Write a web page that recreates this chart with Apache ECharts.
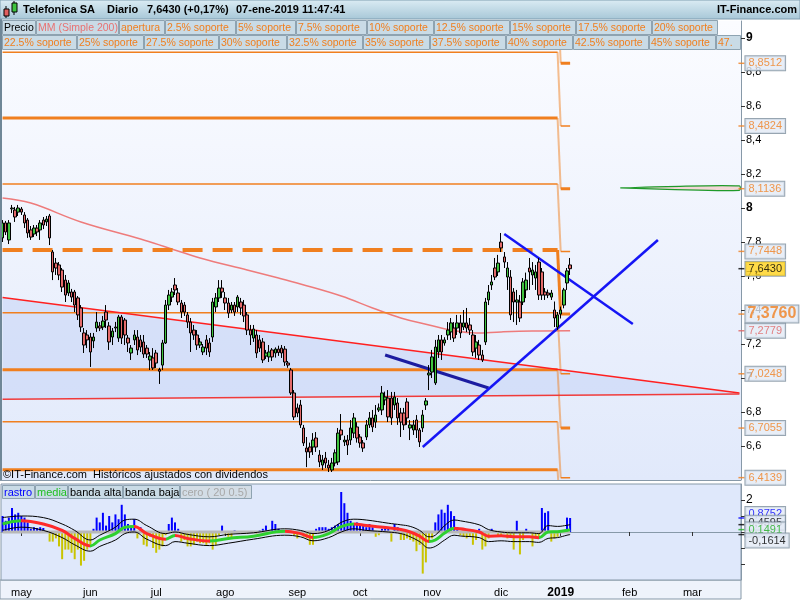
<!DOCTYPE html>
<html><head><meta charset="utf-8">
<script src="https://cdn.jsdelivr.net/npm/echarts@6/dist/echarts.min.js"></script>
<style>html,body{margin:0;padding:0;background:#fff}#c{width:800px;height:600px}</style>
</head><body><div id="c"></div>
<script>
// ---------- DATA ----------
const holidays = ['2018-05-01','2018-12-25','2018-12-26','2019-01-01'];
const firstDay = '2018-04-23', lastDay = '2019-03-22';
const monthNames = ['ene','feb','mar','abr','may','jun','jul','ago','sep','oct','nov','dic'];

const opens = [
7.824,7.912,7.812,7.995,7.988,7.976,7.994,7.959,7.929,7.871,
7.847,7.882,7.871,7.929,7.918,7.953,7.741,7.676,7.665,7.635,
7.576,7.500,7.506,7.506,7.471,7.412,7.265,7.253,7.241,7.218,
7.294,7.306,7.300,7.388,7.306,7.241,7.294,7.235,7.359,7.341,
7.235,7.147,7.224,7.241,7.224,7.212,7.176,7.106,7.118,7.147,
7.050,7.076,7.206,7.429,7.476,7.547,7.500,7.441,7.429,7.371,
7.329,7.282,7.253,7.194,7.153,7.224,7.206,7.241,7.418,7.471,
7.529,7.471,7.441,7.400,7.429,7.418,7.447,7.429,7.371,7.282,
7.235,7.253,7.224,7.212,7.129,7.124,7.165,7.147,7.170,7.176,
7.170,7.088,7.047,6.912,6.824,6.841,6.706,6.588,6.594,6.594,
6.647,6.547,6.488,6.529,6.488,6.459,6.500,6.506,6.694,6.624,
6.635,6.635,6.676,6.712,6.653,6.618,6.653,6.724,6.765,6.741,
6.812,6.812,6.871,6.882,6.882,6.841,6.853,6.794,6.794,6.859,
6.706,6.694,6.753,6.694,6.706,6.841,7.018,7.035,6.971,7.153,
7.224,7.206,7.253,7.271,7.294,7.294,7.324,7.300,7.324,7.312,
7.253,7.176,7.194,7.135,7.212,7.459,7.547,7.647,7.624,7.800,
7.712,7.594,7.594,7.506,7.447,7.447,7.447,7.518,7.647,7.606,
7.588,7.682,7.624,7.506,7.500,7.476,7.400,7.300,7.376,7.429,
7.559,7.665];
const closes = [
7.912,7.859,7.912,8.000,7.947,8.000,7.976,7.912,7.853,7.829,
7.882,7.859,7.912,7.900,7.935,7.824,7.624,7.647,7.606,7.535,
7.488,7.559,7.476,7.429,7.371,7.300,7.194,7.224,7.153,7.241,
7.329,7.294,7.335,7.341,7.212,7.276,7.300,7.359,7.235,7.253,
7.206,7.176,7.253,7.165,7.182,7.141,7.141,7.129,7.059,7.088,
7.040,7.206,7.429,7.488,7.506,7.518,7.447,7.388,7.388,7.329,
7.265,7.253,7.194,7.212,7.182,7.176,7.153,7.447,7.471,7.529,
7.506,7.441,7.382,7.429,7.388,7.476,7.412,7.365,7.282,7.253,
7.288,7.147,7.176,7.106,7.147,7.153,7.124,7.170,7.150,7.147,
7.094,7.076,6.912,6.771,6.794,6.724,6.618,6.565,6.565,6.635,
6.594,6.506,6.518,6.500,6.471,6.500,6.560,6.676,6.665,6.635,
6.606,6.706,6.765,6.647,6.618,6.588,6.724,6.765,6.712,6.782,
6.824,6.912,6.888,6.771,6.765,6.888,6.765,6.741,6.724,6.765,
6.724,6.724,6.694,6.624,6.782,6.865,7.029,7.124,7.182,7.224,
7.153,7.224,7.282,7.324,7.235,7.324,7.265,7.324,7.294,7.282,
7.153,7.212,7.135,7.106,7.447,7.506,7.565,7.594,7.676,7.765,
7.682,7.647,7.371,7.447,7.459,7.353,7.565,7.576,7.624,7.635,
7.624,7.488,7.488,7.488,7.488,7.500,7.353,7.371,7.400,7.518,
7.630,7.643];
const lows = [
7.800,7.841,7.788,7.970,7.918,7.953,7.959,7.882,7.824,7.812,
7.829,7.835,7.812,7.876,7.894,7.782,7.576,7.606,7.576,7.506,
7.447,7.482,7.447,7.388,7.341,7.271,7.147,7.176,7.065,7.176,
7.271,7.276,7.282,7.294,7.165,7.194,7.270,7.212,7.200,7.194,
7.153,7.106,7.194,7.135,7.153,7.118,7.118,7.047,7.047,7.059,
6.965,7.047,7.200,7.400,7.447,7.488,7.429,7.353,7.365,7.294,
7.153,7.224,7.165,7.176,7.135,7.135,7.124,7.212,7.388,7.447,
7.471,7.400,7.353,7.382,7.365,7.388,7.371,7.329,7.253,7.194,
7.212,7.118,7.153,7.088,7.112,7.094,7.100,7.120,7.130,7.118,
7.071,7.060,6.900,6.753,6.770,6.706,6.600,6.476,6.530,6.547,
6.565,6.476,6.459,6.470,6.447,6.447,6.480,6.488,6.635,6.600,
6.547,6.606,6.647,6.620,6.590,6.565,6.635,6.706,6.682,6.706,
6.800,6.782,6.840,6.741,6.724,6.812,6.724,6.653,6.694,6.724,
6.635,6.665,6.647,6.594,6.682,6.812,6.929,7.000,6.959,7.118,
7.106,7.190,7.224,7.224,7.212,7.253,7.235,7.282,7.270,7.253,
7.129,7.118,7.106,7.094,7.194,7.429,7.518,7.576,7.600,7.741,
7.647,7.518,7.341,7.329,7.312,7.329,7.429,7.470,7.518,7.547,
7.518,7.459,7.459,7.459,7.470,7.459,7.300,7.282,7.350,7.410,
7.518,7.606];
const highs = [
7.929,7.924,7.929,8.018,8.006,8.018,8.006,7.976,7.941,7.894,
7.900,7.900,7.929,7.947,7.953,7.965,7.753,7.706,7.682,7.647,
7.606,7.576,7.524,7.518,7.482,7.429,7.294,7.282,7.265,7.265,
7.388,7.329,7.365,7.429,7.329,7.294,7.330,7.371,7.371,7.353,
7.253,7.194,7.282,7.282,7.253,7.253,7.194,7.153,7.176,7.165,
7.060,7.224,7.459,7.518,7.529,7.588,7.529,7.459,7.447,7.388,
7.353,7.312,7.282,7.235,7.200,7.253,7.235,7.471,7.500,7.576,
7.576,7.506,7.471,7.447,7.447,7.488,7.471,7.459,7.388,7.312,
7.312,7.282,7.253,7.235,7.165,7.194,7.176,7.180,7.190,7.194,
7.188,7.100,7.059,6.929,6.850,6.871,6.724,6.653,6.620,6.676,
6.682,6.576,6.547,6.565,6.518,6.530,6.580,6.706,6.788,6.660,
6.665,6.753,6.794,6.740,6.670,6.635,6.753,6.800,6.812,6.841,
6.850,6.953,6.920,6.929,6.918,6.918,6.882,6.824,6.824,6.882,
6.753,6.753,6.782,6.706,6.812,6.882,7.076,7.165,7.224,7.253,
7.253,7.240,7.329,7.353,7.329,7.371,7.371,7.400,7.412,7.353,
7.282,7.253,7.224,7.165,7.471,7.547,7.606,7.706,7.724,7.853,
7.741,7.682,7.635,7.529,7.518,7.488,7.588,7.620,7.706,7.682,
7.665,7.706,7.647,7.529,7.520,7.518,7.450,7.388,7.420,7.530,
7.647,7.706];

// MM (Simple 200): [day index, value]
const mm200 = [[0,8.059],[9,8.029],[25,7.918],[44,7.818],[53,7.765],[63,7.706],[78,7.635],[88,7.588],[95,7.553],[108,7.482],[118,7.412],[127,7.353],[136,7.312],[143,7.282],[151,7.265],[159,7.271],[169,7.276],[181,7.2779]];

// support levels: value in 2018 and value from 2019
const levels2018 = [9.304, 8.916, 8.529, 8.141, 7.753, 7.384, 7.048, 6.742, 6.461];
const levels2019 = [8.8512, 8.4824, 8.1136, 7.7448, 7.3760, 7.0248, 6.7055, 6.4139, 6.1467];
const aperturaIndex = 4;

// trend lines [day index, value]
const redDesc = [[0,7.473],[235,6.912]];
const redFlat = [[0,6.875],[235,6.906]];
const trendDark = [[122,7.135],[155,6.941]];
const trendUp = [[134,6.594],[209,7.812]];
const trendDown = [[160,7.847],[201,7.318]];
const lens = [[197,8.118],[212,8.126],[235,8.130],[235,8.104],[212,8.110],[197,8.118]];

// lower indicator
const rastro = [
1.0,0.7,0.9,1.5,1.1,1.2,1.0,0.9,0.6,0.2,
0.3,0.25,0.3,0.25,0.05,-0.6,-0.6,-0.4,-0.9,-1.7,
-1.1,-1.1,-1.3,-1.7,-1.1,-2.1,-1.8,-1.1,-0.8,0.2,
0.9,0.6,1.2,0.4,1.0,0.6,1.1,0.8,1.7,1.1,
0.5,0.4,0.8,-0.4,0.3,-0.8,-0.9,-0.3,-1.0,-1.3,
-1.1,-0.9,-0.2,0.5,0.9,0.6,0.2,-0.6,-0.5,-0.9,
-0.9,-0.8,-0.6,-0.7,-0.7,-0.8,-0.7,-1.1,-0.8,-0.2,
0.4,-0.1,-0.3,-0.4,0.1,0.05,0.0,0.05,-0.1,-0.05,
0.0,-0.1,0.1,0.2,0.4,0.1,0.7,0.5,0.2,0.1,
0.0,0.1,0.0,-0.2,-0.4,-0.1,-0.3,-0.4,-0.8,-0.8,
0.2,0.3,0.3,0.3,0.2,0.3,0.4,0.5,2.5,1.8,
1.2,0.7,0.5,0.6,0.5,0.4,0.3,0.5,0.3,-0.3,
-0.2,0.2,0.3,0.3,-0.6,0.5,0.3,-0.5,-0.5,-0.4,
-0.5,-0.6,-1.2,-0.8,-2.6,-1.9,-0.6,-0.4,0.6,1.1,
1.4,1.2,1.7,1.3,1.0,0.3,-0.2,-0.3,-0.4,-0.3,
-0.8,-0.5,0.2,-1.1,-0.9,-0.4,0.2,0.0,-0.2,-0.3,
-0.1,-0.4,-0.3,-1.1,0.7,-1.4,-0.5,0.2,0.0,-0.9,
-0.4,-0.3,1.5,1.2,1.3,-0.6,-0.4,-0.3,0.0,0.1,
0.9,0.8752];
const media = [[0,0.5],[6,0.7],[13,0.5],[19,0.1],[23,-0.4],[28,-0.87],[31,-0.5],[36,-0.1],[39,0.3],[42,0.34],[46,-0.1],[52,-0.45],[55,-0.22],[59,-0.4],[66,-0.57],[72,-0.4],[80,-0.26],[90,0.04],[95,-0.1],[99,-0.34],[104,-0.1],[108,0.34],[112,0.5],[116,0.4],[123,0.26],[127,0.16],[130,0],[133,-0.26],[136,-0.6],[138,-0.5],[141,-0.06],[144,0.24],[146,0.2],[152,0],[155,-0.26],[159,-0.24],[163,-0.3],[168,-0.3],[171,-0.36],[174,0],[177,0.02],[180,0.1],[181,0.1491]];
const bandaAlta = [[0,0.9],[6,1.0],[13,0.9],[19,0.5],[23,0.1],[28,-0.5],[31,-0.2],[36,0.3],[39,0.75],[42,0.8],[46,0.4],[52,-0.1],[55,0.0],[59,-0.15],[66,-0.3],[72,-0.15],[80,-0.05],[90,0.2],[95,0.1],[99,-0.1],[104,0.1],[108,0.6],[112,0.8],[116,0.75],[123,0.55],[127,0.45],[130,0.35],[133,0.1],[136,-0.3],[138,-0.2],[141,0.4],[144,0.75],[146,0.7],[152,0.45],[155,0.15],[159,0.0],[163,-0.05],[168,-0.05],[171,-0.1],[174,0.4],[177,0.35],[180,0.42],[181,0.4595]];
const bandaBaja = [[0,0.1],[6,0.3],[13,0.1],[19,-0.35],[23,-0.8],[28,-1.2],[31,-0.9],[36,-0.5],[39,-0.1],[42,0.0],[46,-0.45],[52,-0.85],[55,-0.6],[59,-0.7],[66,-0.85],[72,-0.7],[80,-0.45],[90,-0.2],[95,-0.3],[99,-0.55],[104,-0.35],[108,0.0],[112,0.2],[116,0.1],[123,0.0],[127,-0.1],[130,-0.3],[133,-0.6],[136,-1.0],[138,-0.9],[141,-0.5],[144,-0.2],[146,-0.25],[152,-0.35],[155,-0.6],[159,-0.55],[163,-0.6],[168,-0.6],[171,-0.65],[174,-0.4],[177,-0.35],[180,-0.2],[181,-0.1614]];
const mediaFalling = [[6,28],[42,52],[55,66],[90,99],[112,136],[144,171]];

// texts
const titleParts = ['Telefonica SA','Diario','7,6430 (+0,17%)','07-ene-2019 11:47:41'];
const legendRow1 = ['Precio','MM (Simple 200)','apertura','2.5% soporte','5% soporte','7.5% soporte','10% soporte','12.5% soporte','15% soporte','17.5% soporte','20% soporte'];
const legendRow2 = ['22.5% soporte','25% soporte','27.5% soporte','30% soporte','32.5% soporte','35% soporte','37.5% soporte','40% soporte','42.5% soporte','45% soporte','47.5% soporte'];
const indLegend = ['rastro','media','banda alta','banda baja','cero ( 20 0.5)'];

// ---------- LAYOUT / STYLE ----------
const FONT = '"Liberation Sans", Arial, sans-serif';
const ORANGE = '#f07f1f';
const row1Edges = [2,36,119,165,236,296,367,434,510,576,652,718];
const row2Edges = [2,77,144,219,287,363,430,506,573,649,716,741];
const row1Colors = ['#000','#e87272'].concat(Array(9).fill(ORANGE));
const indEdges = [2,35,68,123,180,252];
const indColors = ['#0000ff','#22c022','#000','#000','#a8a8a8'];
const titleX = [23,107,147,236];

function buildDates(){
  const out=[]; let t=Date.parse(firstDay+'T00:00:00Z'); const end=Date.parse(lastDay+'T00:00:00Z');
  while(t<=end){ const d=new Date(t); const wd=d.getUTCDay(); const s=d.toISOString().slice(0,10);
    if(wd!==0&&wd!==6&&holidays.indexOf(s)<0) out.push(s); t+=86400000; }
  return out;
}
const dates = buildDates();
const LAST = closes.length-1;
const END2018 = dates.indexOf('2018-12-31');
const isMonthStart = i => i>0 && dates[i].slice(0,7)!==dates[i-1].slice(0,7);
const fmtComma = (v,d) => v.toFixed(d).replace('.',',');

const chart = echarts.init(document.getElementById('c'), null, {renderer:'canvas', width:800, height:600});

const series = [];
series.push({type:'custom', xAxisIndex:0, yAxisIndex:0, silent:true, z:1, data:[0],
  renderItem:(p,api)=>({type:'polygon', shape:{points:[redDesc[0],redDesc[1],redFlat[1],redFlat[0]].map(q=>api.coord(q))},
    style:{fill:'rgba(196,212,246,0.55)'}})});
series.push({type:'custom', xAxisIndex:0, yAxisIndex:0, silent:true, z:3, data:[0],
  renderItem:(p,api)=>({type:'polygon', shape:{points:lens.map(q=>api.coord(q)), smooth:0.3},
    style:{fill:'#f3d6d6', stroke:'#1f9a2a', lineWidth:1.2}})});
series.push({type:'line', xAxisIndex:0, yAxisIndex:0, data:mm200, smooth:0.4, symbol:'none', silent:true, z:3,
  lineStyle:{color:'#ee7b7b', width:1.5}});
const w18 = [3,1.5,3,1.5,4,1.5,3,1.5,3];
const w19 = [3,1.5,3,1.5,3,1.5,3,1.5,3];
levels2018.forEach((v,k)=>{
  series.push({type:'line', xAxisIndex:0, yAxisIndex:0, data:[[0,v],[END2018,v]], symbol:'none', silent:true, z:3,
    lineStyle:{color:ORANGE, width:w18[k], type: k===aperturaIndex ? [20,10] : 'solid'}});
  series.push({type:'line', xAxisIndex:0, yAxisIndex:0, data:[[END2018,v],[END2018+1,levels2019[k]]], symbol:'none', silent:true, z:3,
    lineStyle:{color: k===aperturaIndex ? ORANGE : 'rgba(240,127,31,0.5)', width: k===aperturaIndex ? 3 : 2}});
  series.push({type:'line', xAxisIndex:0, yAxisIndex:0, data:[[END2018+1,levels2019[k]],[LAST,levels2019[k]]], symbol:'none', silent:true, z:3,
    lineStyle:{color:ORANGE, width:w19[k]}});
});
[[redDesc,'#ff2020',1.5],[redFlat,'#f03a3a',1.5],[trendDark,'#1c1ca0',3],[trendUp,'#1515f5',2.5],[trendDown,'#1515f5',2.5]].forEach(([d,c,w])=>{
  series.push({type:'line', xAxisIndex:0, yAxisIndex:0, data:d, symbol:'none', silent:true, z:4, lineStyle:{color:c, width:w}});
});
series.push({type:'candlestick', name:'Precio', xAxisIndex:0, yAxisIndex:0, z:5, barWidth:3,
  data: opens.map((o,i)=>[o,closes[i],lows[i],highs[i]]),
  itemStyle:{color:'#3fc43f', color0:'#e36a6a', borderColor:'#000', borderColor0:'#000', borderWidth:1}
});

// value tags on the price axis
const tagBase = {show:true, position:'right', distance:2, fontSize:11, fontFamily:FONT, color:ORANGE,
  backgroundColor:'#e2eaf5', borderColor:'#7d8e9d', borderWidth:1, padding:[2,3,1,3]};
const mainTags = [];
levels2019.forEach((v,k)=>{ if(v>6.4 && v<9.1 && k!==aperturaIndex) mainTags.push({v, t:fmtComma(v,4)}); });
mainTags.push({v:levels2019[aperturaIndex], t:fmtComma(levels2019[aperturaIndex],4), extra:{fontSize:16, fontWeight:'bold', padding:[1,2,0,2]}});
mainTags.push({v:mm200[mm200.length-1][1], t:fmtComma(mm200[mm200.length-1][1],4), extra:{color:'#e06464'}});
mainTags.push({v:closes[LAST], t:fmtComma(closes[LAST],4), extra:{color:'#000', backgroundColor:'#ffd21a'}});
const tagColorMain = (o)=> (o.extra && o.extra.color) ? o.extra.color : ORANGE;
series.push({type:'scatter', xAxisIndex:0, yAxisIndex:0, z:20, silent:true, clip:false, symbol:'rect', symbolSize:[6,1.5], symbolOffset:[2,0],
  data: mainTags.map(o=>({value:[dates.length-1, o.v], itemStyle:{color: tagColorMain(o)},
    label:Object.assign({}, tagBase, {formatter:o.t, offset:[-1,0]}, o.extra||{})}))
});

// indicator
const indTags = [
  {v:rastro[LAST], c:'#0000ff', off:[-1,-4]},
  {v:bandaAlta[bandaAlta.length-1][1], c:'#000', off:[-1,-2]},
  {v:media[media.length-1][1], c:'#22b022', off:[-1,0]},
  {v:bandaBaja[bandaBaja.length-1][1], c:'#000', off:[-1,6]}
];
series.push({type:'bar', xAxisIndex:1, yAxisIndex:1, barWidth:2, silent:true, z:2,
  data: rastro.map(v=>({value:v, itemStyle:{color: v>=0 ? '#0000ff' : '#c9c400'}}))});
series.push({type:'line', xAxisIndex:1, yAxisIndex:1, data:[[0,0],[LAST,0]], symbol:'none', silent:true, z:3, lineStyle:{color:'#b8b8b8', width:3}});
series.push({type:'line', xAxisIndex:1, yAxisIndex:1, data:bandaAlta, smooth:0.4, symbol:'none', silent:true, z:4, lineStyle:{color:'#000', width:1}});
series.push({type:'line', xAxisIndex:1, yAxisIndex:1, data:bandaBaja, smooth:0.4, symbol:'none', silent:true, z:4, lineStyle:{color:'#000', width:1}});
const mediaIndex = series.length;
series.push({type:'line', xAxisIndex:1, yAxisIndex:1, data:media, smooth:0.4, symbol:'none', silent:true, z:5, lineStyle:{width:3}});
series.push({type:'scatter', xAxisIndex:1, yAxisIndex:1, z:20, silent:true, clip:false, symbol:'rect', symbolSize:[6,1.5], symbolOffset:[2,0],
  data: indTags.map(o=>({value:[dates.length-1, o.v], itemStyle:{color:o.c},
    label:Object.assign({}, tagBase, {formatter:fmtComma(o.v,4), color:o.c, offset:o.off})}))
});

// ---------- GRAPHICS (frame, header, legends) ----------
const g = [];
g.push({type:'rect', z:50, silent:true, shape:{x:0,y:0,width:800,height:19},
  style:{fill:new echarts.graphic.LinearGradient(0,0,0,1,[{offset:0,color:'#dbecf4'},{offset:1,color:'#a7c7d7'}]), stroke:'#7f9db0', lineWidth:1}});
g.push({type:'line', z:51, shape:{x1:6,y1:6,x2:6,y2:18}, style:{stroke:'#000',lineWidth:1}});
g.push({type:'rect', z:52, shape:{x:4,y:9,width:5,height:7}, style:{fill:'#e06060',stroke:'#000',lineWidth:1}});
g.push({type:'line', z:51, shape:{x1:14,y1:1,x2:14,y2:15}, style:{stroke:'#000',lineWidth:1}});
g.push({type:'rect', z:52, shape:{x:12,y:3,width:5,height:9}, style:{fill:'#3fc43f',stroke:'#000',lineWidth:1}});
titleParts.forEach((t,i)=>g.push({type:'text', z:52, x:titleX[i], y:10, style:{text:t, font:'bold 11px '+FONT, fill:'#000', verticalAlign:'middle'}}));
g.push({type:'text', z:52, x:797, y:10, style:{text:'IT-Finance.com', font:'bold 11px '+FONT, fill:'#000', align:'right', verticalAlign:'middle'}});
function legendRow(labels, edges, colors, y, h, clipLast){
  labels.forEach((t,i)=>{
    const x0=edges[i], x1=edges[i+1];
    g.push({type:'rect', z:60, silent:true, shape:{x:x0+0.5,y:y+0.5,width:x1-x0-1,height:h}, style:{fill:'#c9dbe6', stroke:'#8ea3b1', lineWidth:1}});
    const st = {text:t, font:'10.5px '+FONT, fill:colors[i], verticalAlign:'middle'};
    if (clipLast && i===labels.length-1) Object.assign(st, {width:x1-x0-4, overflow:'truncate', ellipsis:''});
    g.push({type:'text', z:61, silent:true, x:x0+2, y:y+h/2+1, style:st});
  });
}
legendRow(legendRow1, row1Edges, row1Colors, 20, 14, false);
legendRow(legendRow2, row2Edges, Array(11).fill(ORANGE), 35, 14, true);
indLegend.forEach((t,i)=>{
  const x0=indEdges[i], x1=indEdges[i+1];
  g.push({type:'rect', z:60, silent:true, shape:{x:x0+0.5,y:485.5,width:x1-x0-1,height:13}, style:{fill: i===4?'#d3dde6':'#c9dbe6', stroke:'#8ea3b1', lineWidth:1}});
  g.push({type:'text', z:61, silent:true, x:x0+2, y:492.5, style:{text:t, font:'11px '+FONT, fill:indColors[i], verticalAlign:'middle'}});
});
g.push({type:'line', z:40, silent:true, shape:{x1:1,y1:19,x2:1,y2:481}, style:{stroke:'#6f8797', lineWidth:2}});
g.push({type:'line', z:40, silent:true, shape:{x1:0,y1:480.5,x2:741,y2:480.5}, style:{stroke:'#8799a8', lineWidth:1}});
g.push({type:'rect', z:-10, silent:true, shape:{x:0,y:580,width:741,height:19}, style:{fill:'#eef3fb', stroke:'#8799a8', lineWidth:1}});
g.push({type:'text', z:40, silent:true, x:3, y:475, style:{text:'©IT-Finance.com  Históricos ajustados con dividendos', font:'11px '+FONT, fill:'#000', verticalAlign:'middle'}});

const option = {
  animation:false,
  backgroundColor:'#ffffff',
  grid:[
    {left:1, right:59, top:21, height:459, show:true, borderWidth:0,
     backgroundColor:new echarts.graphic.LinearGradient(0,0,0,1,[{offset:0,color:'#fbfcff'},{offset:1,color:'#e1e9fb'}])},
    {left:1, right:59, top:484, height:96, show:true, backgroundColor:'#dfe8fb', borderColor:'#8799a8', borderWidth:1}
  ],
  xAxis:[
    {gridIndex:0, type:'category', data:dates, boundaryGap:true, show:false},
    {gridIndex:1, type:'category', data:dates, boundaryGap:true,
     axisLine:{show:true, lineStyle:{color:'#8799a8'}},
     axisTick:{show:true, alignWithLabel:true, length:4, interval:(i)=>isMonthStart(i), lineStyle:{color:'#333'}},
     axisLabel:{interval:(i)=>isMonthStart(i), margin:7, fontSize:11, fontFamily:FONT, color:'#000',
       formatter:(v)=>{ const m=+v.slice(5,7); return m===1 ? '{y|'+v.slice(0,4)+'}' : monthNames[m-1]; },
       rich:{y:{fontWeight:'bold', fontSize:12, fontFamily:FONT, color:'#000'}}},
     splitLine:{show:false}}
  ],
  yAxis:[
    {gridIndex:0, type:'value', position:'right', min:6.4, max:9.1, interval:0.2,
     axisLine:{show:true, lineStyle:{color:'#8799a8'}}, axisTick:{show:true, length:4, lineStyle:{color:'#333'}},
     splitLine:{show:false},
     axisLabel:{margin:5, fontSize:11, fontFamily:FONT, color:'#000', showMinLabel:false, showMaxLabel:false,
       formatter:(v)=>{ const r=Math.round(v*10)/10; return Number.isInteger(r) ? '{b|'+r+'}' : fmtComma(r,1); },
       rich:{b:{fontWeight:'bold', fontSize:12, fontFamily:FONT, color:'#000'}}}},
    {gridIndex:1, type:'value', position:'right', min:-3, max:3, interval:1,
     axisLine:{show:true, lineStyle:{color:'#8799a8'}}, axisTick:{show:true, length:4, lineStyle:{color:'#333'}},
     splitLine:{show:false},
     axisLabel:{margin:5, fontSize:12, fontFamily:FONT, color:'#000', showMinLabel:false, showMaxLabel:false,
       formatter:(v)=> Math.round(v)===2 ? '2' : ''}}
  ],
  visualMap:[{type:'piecewise', show:false, seriesIndex:mediaIndex, dimension:0,
    pieces: mediaFalling.map(r=>({gte:r[0], lt:r[1], color:'#ff2a2a'})),
    outOfRange:{color:'#2fd02f'}}],
  series: series,
  graphic: g
};
chart.setOption(option);
</script></body></html>
